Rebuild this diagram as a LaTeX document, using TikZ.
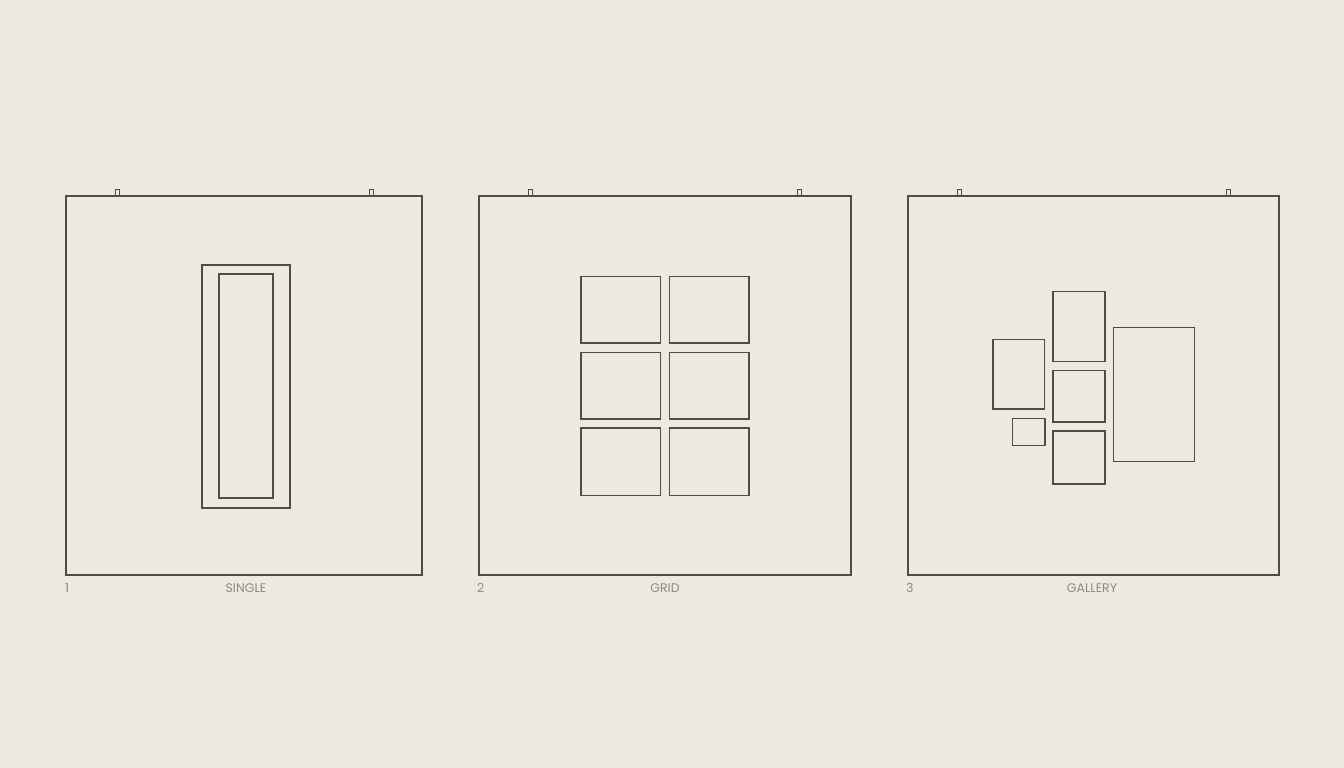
\documentclass[tikz,border=0pt]{standalone}
\usepackage{fontspec}
\setmainfont{Poppins}
\definecolor{bgc}{HTML}{ECE9E1}
\definecolor{linec}{HTML}{4E4C48}
\definecolor{textc}{HTML}{8E8A84}
\tikzset{
  frame/.style={draw=linec, line width=1.2pt},
  hook/.style={draw=linec, line width=1.0pt},
  lbl/.style={text=textc, font=\fontsize{12.5}{14}\selectfont, inner sep=0pt, anchor=base},
}
\begin{document}
\begin{tikzpicture}[x=1pt,y=-1pt]
\fill[bgc] (0,0) rectangle (1344,768);
\useasboundingbox (0,0) rectangle (1344,768);
% panel 1
\draw[hook] (115,196) -- (115,189) -- (119.5,189) -- (119.5,196);
\draw[hook] (369,196) -- (369,189) -- (373.5,189) -- (373.5,196);
\draw[frame] (66,196) rectangle (422,575);
\draw[frame] (202,265) rectangle (290,508);
\draw[frame] (219,274) rectangle (273,498);
\node[lbl, anchor=base west] (n1) at (65,592) {1};
\node[lbl] (t1) at (246,592) {SINGLE};
% panel 2
\draw[hook] (528,196) -- (528,189) -- (532.5,189) -- (532.5,196);
\draw[hook] (797,196) -- (797,189) -- (801.5,189) -- (801.5,196);
\draw[frame] (479,196) rectangle (851,575);
\draw[frame] (581,276.3) rectangle (660.7,343);
\draw[frame] (669.3,276.3) rectangle (749,343);
\draw[frame] (581,352.3) rectangle (660.7,419);
\draw[frame] (669.3,352.3) rectangle (749,419);
\draw[frame] (581,428) rectangle (660.7,495.3);
\draw[frame] (669.3,428) rectangle (749,495.3);
\node[lbl, anchor=base west] (n2) at (477,592) {2};
\node[lbl] (t2) at (665,592) {GRID};
% panel 3
\draw[hook] (957,196) -- (957,189) -- (961.5,189) -- (961.5,196);
\draw[hook] (1226,196) -- (1226,189) -- (1230.5,189) -- (1230.5,196);
\draw[frame] (908,196) rectangle (1279,575);
\draw[frame] (993,339.7) rectangle (1044.7,409);
\draw[frame] (1053,291.7) rectangle (1105,361.3);
\draw[frame] (1053,370.7) rectangle (1105,422);
\draw[frame] (1012.7,418.3) rectangle (1045,445.3);
\draw[frame] (1053,431) rectangle (1105,484);
\draw[frame] (1113.3,327.3) rectangle (1194.7,461.3);
\node[lbl, anchor=base west] (n3) at (906,592) {3};
\node[lbl] (t3) at (1092,592) {GALLERY};
\end{tikzpicture}
\end{document}
